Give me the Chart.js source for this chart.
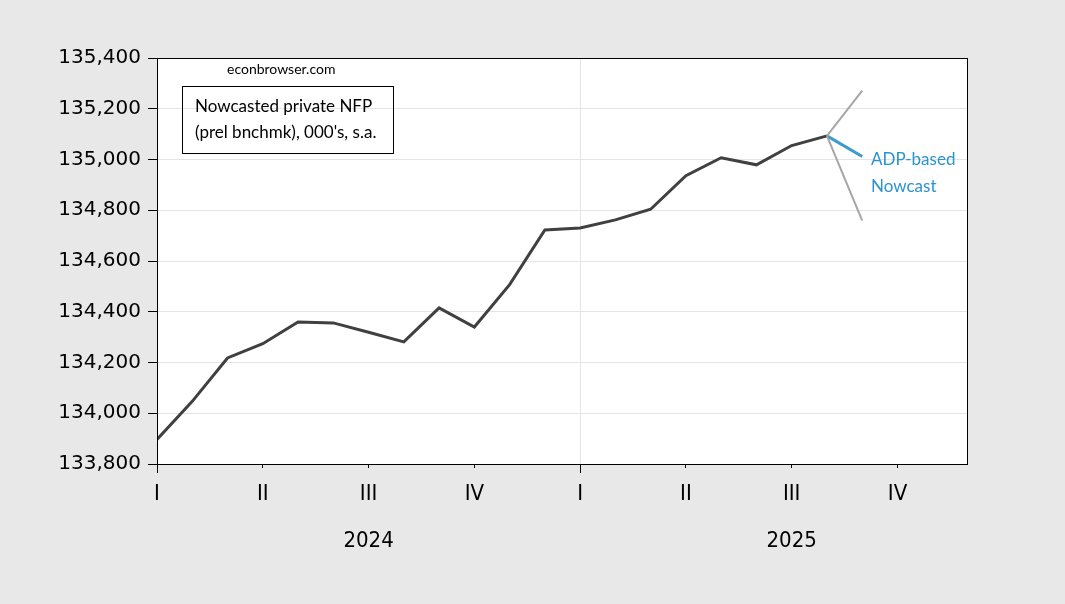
<!DOCTYPE html>
<html>
<head>
<meta charset="utf-8">
<script src="https://cdn.jsdelivr.net/npm/chart.js@4.4.1/dist/chart.umd.min.js"></script>
<style>
  html, body { margin: 0; padding: 0; background: #e8e8e8; }
  #wrap { width: 1065px; height: 604px; }
</style>
</head>
<body>
<div id="wrap"><canvas id="nfpChart" width="1065" height="604"></canvas></div>
<script>
// axis runs monthly Jan 2024 .. Dec 2025
const axisMonths = [
    '2024-01', '2024-02', '2024-03', '2024-04', '2024-05', '2024-06',
    '2024-07', '2024-08', '2024-09', '2024-10', '2024-11', '2024-12',
    '2025-01', '2025-02', '2025-03', '2025-04', '2025-05', '2025-06',
    '2025-07', '2025-08', '2025-09', '2025-10', '2025-11', '2025-12'
];

// nowcasted private NFP, 000's s.a.
const nfpMonths = axisMonths.slice(0, 20);
const nfp = [
    133897, 134047, 134218, 134274, 134360, 134356, 134319, 134281, 134415, 134340,
    134507, 134722, 134730, 134762, 134804, 134936, 135007, 134979, 135055, 135093
];

// ADP-based nowcast for Sep 2025 and its band
const nowcastMonth = '2025-09';
const adpNowcast = 135012;
const bandUpper = 135271;
const bandLower = 134759;

const quarterTicks = [0, 3, 6, 9, 12, 15, 18, 21];
const quarterLabels = ['I', 'II', 'III', 'IV', 'I', 'II', 'III', 'IV'];
const yearTicks = [6, 18];
const yearLabels = ['2024', '2025'];
const yearStarts = [0, 12];

const xOf = m => axisMonths.indexOf(m);
const lastMonth = nfpMonths[nfpMonths.length - 1];
const lastValue = nfp[nfp.length - 1];

function branch(value) {
    return [{ x: xOf(lastMonth), y: lastValue }, { x: xOf(nowcastMonth), y: value }];
}

const frame = {
    id: 'frame',
    beforeDraw(chart) {
        const { ctx, chartArea: a } = chart;
        ctx.save();
        ctx.fillStyle = '#ffffff';
        ctx.fillRect(a.left, a.top, a.right - a.left, a.bottom - a.top);
        ctx.restore();
    },
    afterDraw(chart) {
        const { ctx, chartArea: a, scales } = chart;
        ctx.save();
        ctx.strokeStyle = '#000';
        ctx.lineWidth = 1;
        ctx.strokeRect(a.left + 0.5, a.top + 0.5, a.right - a.left - 1, a.bottom - a.top);

        // longer ticks at year starts
        yearStarts.forEach(v => {
            const px = Math.round(scales.x.getPixelForValue(v)) + 0.5;
            ctx.beginPath();
            ctx.moveTo(px, a.bottom);
            ctx.lineTo(px, a.bottom + 9);
            ctx.stroke();
        });

        ctx.fillStyle = '#000';
        ctx.textBaseline = 'alphabetic';
        ctx.font = '14px Lato';
        ctx.fillText('econbrowser.com', 227, 74);

        ctx.strokeRect(182.5, 86.5, 211, 67);
        ctx.font = '17px Lato';
        ctx.fillText('Nowcasted private NFP', 195, 111.5);
        ctx.fillText("(prel bnchmk), 000's, s.a.", 195, 137.5);

        ctx.fillStyle = '#2a93d0';
        ctx.fillText('ADP-based', 871, 165);
        ctx.fillText('Nowcast', 871, 191.5);
        ctx.restore();
    }
};

new Chart(document.getElementById('nfpChart'), {
    type: 'line',
    data: {
        datasets: [
            {
                label: 'Upper',
                data: branch(bandUpper),
                borderColor: '#a6a6a6',
                borderWidth: 2
            },
            {
                label: 'Lower',
                data: branch(bandLower),
                borderColor: '#a6a6a6',
                borderWidth: 2
            },
            {
                label: 'Private NFP',
                data: nfp.map((v, i) => ({ x: xOf(nfpMonths[i]), y: v })),
                borderColor: '#404040',
                borderWidth: 3
            },
            {
                label: 'ADP-based Nowcast',
                data: branch(adpNowcast),
                borderColor: '#3d9bd1',
                borderWidth: 3
            }
        ]
    },
    options: {
        responsive: false,
        animation: false,
        layout: { padding: { top: 58, right: 97, left: 0, bottom: 0 } },
        elements: {
            point: { radius: 0 },
            line: { tension: 0, borderCapStyle: 'butt', borderJoinStyle: 'miter' }
        },
        plugins: {
            legend: { display: false },
            tooltip: { enabled: false }
        },
        scales: {
            x: {
                type: 'linear',
                min: 0,
                max: 23,
                afterFit: scale => { scale.height = 140; },
                afterBuildTicks: scale => {
                    scale.ticks = quarterTicks.map(v => ({ value: v }));
                },
                border: { display: false },
                grid: {
                    color: c => (c.tick && c.tick.value === 12 ? '#e4e4e4' : 'rgba(0,0,0,0)'),
                    tickColor: '#000',
                    tickLength: 4
                },
                ticks: {
                    autoSkip: false,
                    maxRotation: 0,
                    padding: 3,
                    color: '#000',
                    font: { family: '"DejaVu Sans Condensed", "DejaVu Sans"', size: 22, lineHeight: '47px' },
                    callback: function(value) {
                        const q = quarterLabels[quarterTicks.indexOf(value)];
                        const y = yearTicks.indexOf(value);
                        return y >= 0 ? [q, yearLabels[y]] : q;
                    }
                }
            },
            y: {
                min: 133800,
                max: 135400,
                afterFit: scale => { scale.width = 157; },
                border: { display: false },
                grid: {
                    color: '#e4e4e4',
                    tickColor: '#000',
                    tickLength: 9
                },
                ticks: {
                    stepSize: 200,
                    padding: 7,
                    color: '#000',
                    font: { family: '"DejaVu Sans"', size: 20 },
                    callback: function(value) {
                        return value.toLocaleString('en-US');
                    }
                }
            }
        }
    },
    plugins: [frame]
});
</script>
</body>
</html>
